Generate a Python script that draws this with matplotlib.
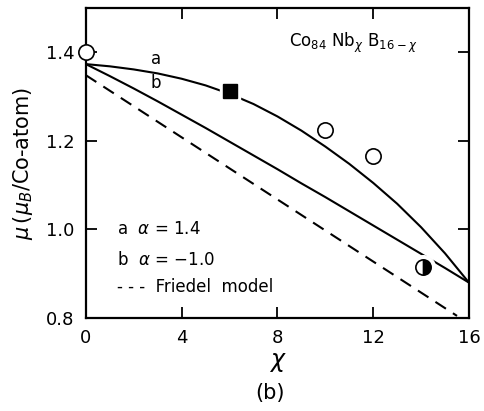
import matplotlib
matplotlib.use('Agg')
import matplotlib.pyplot as plt
from matplotlib.markers import MarkerStyle


# curves (x = Nb content)
x_curve = [0, 1, 2, 3, 4, 5, 6, 7, 8, 9, 10, 11, 12, 13, 14, 15, 16]
mu_a = [1.373, 1.368, 1.361, 1.352, 1.340, 1.325, 1.306, 1.283, 1.255,
        1.223, 1.187, 1.148, 1.105, 1.058, 1.005, 0.946, 0.880]
mu_b = [1.373, 1.346, 1.318, 1.289, 1.259, 1.229, 1.198, 1.167, 1.136,
        1.104, 1.073, 1.041, 1.009, 0.977, 0.945, 0.913, 0.880]
x_friedel = [0, 15.5]
mu_friedel = [1.348, 0.805]

# measured points
x_open = [0, 10, 12]
mu_open = [1.40, 1.224, 1.165]
x_square = [6]
mu_square = [1.312]
x_half = [14.1]
mu_half = [0.915]

xticks = [0, 4, 8, 12, 16]
yticks = [0.8, 1.0, 1.2, 1.4]


def plot():
    plt.rcParams['font.family'] = 'DejaVu Sans'
    fig = plt.figure(figsize=(4.85, 4.11), dpi=100)
    ax = fig.add_axes([0.177, 0.226, 0.79, 0.755])

    ax.plot(x_curve, mu_a, color='black', lw=1.5)
    ax.plot(x_curve, mu_b, color='black', lw=1.5)
    ax.plot(x_friedel, mu_friedel, color='black', lw=1.5, dashes=(6, 4))

    # white halo under markers, so lines break around them
    ax.plot(x_square, mu_square, 's', ms=15, color='white', zorder=3)
    ax.plot(x_half, mu_half, 'o', ms=17, color='white', zorder=3)
    ax.plot(x_square, mu_square, 's', ms=10, color='black', zorder=4)
    ax.plot(x_open, mu_open, 'o', ms=11, mfc='white', mec='black',
            mew=1.2, zorder=4, clip_on=False)
    ax.plot(x_half, mu_half, marker=MarkerStyle('o', fillstyle='right'),
            ms=11, color='black', mfc='black', mfcalt='white', mew=1.2,
            zorder=4, ls='none')

    ax.text(2.7, 1.374, 'a', fontsize=12)
    ax.text(2.7, 1.318, 'b', fontsize=12)
    ax.text(8.5, 1.412, r'Co$_{84}$ Nb$_{\chi}$ B$_{16-\chi}$', fontsize=12)

    ax.text(1.3, 1.0, r'a  $\alpha$ = 1.4', fontsize=12, va='center')
    ax.text(1.3, 0.93, r'b  $\alpha$ = $-$1.0', fontsize=12, va='center')
    ax.text(1.3, 0.87, '- - -  Friedel  model', fontsize=12, va='center')

    ax.set_xlim(0, 16)
    ax.set_ylim(0.8, 1.5)
    ax.set_xticks(xticks)
    ax.set_yticks(yticks)
    ax.set_xticklabels([str(t) for t in xticks])
    ax.set_yticklabels(['%.1f' % t for t in yticks])
    ax.tick_params(direction='in', length=8, width=1.3, labelsize=13,
                   top=True, right=True, pad=8)
    for s in ax.spines.values():
        s.set_linewidth(1.6)

    ax.set_xlabel(r'$\chi$', fontsize=17, labelpad=2)
    ax.set_ylabel(r'$\mu\,(\mu_B$/Co-atom)', fontsize=15, labelpad=8)
    fig.text(0.557, 0.03, '(b)', fontsize=15, ha='center')

    fig.savefig('out.png', dpi=100)


if __name__ == '__main__':
    plot()
